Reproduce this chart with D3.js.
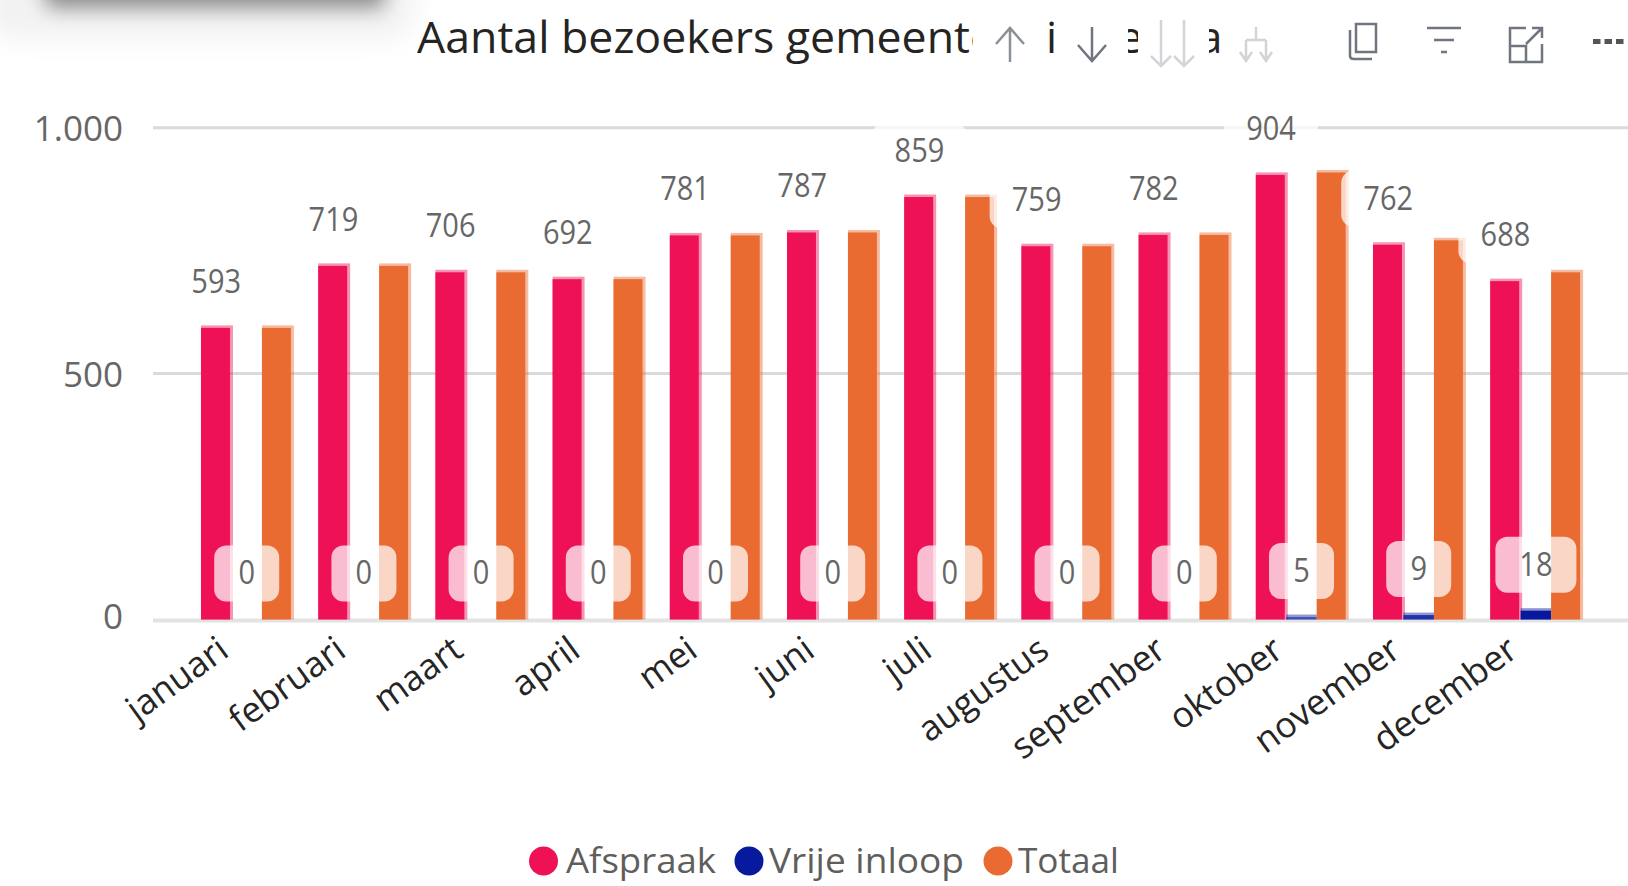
<!DOCTYPE html>
<html><head><meta charset="utf-8">
<script src="https://cdn.jsdelivr.net/npm/d3@7"></script>
<style>html,body{margin:0;padding:0;background:#fff;overflow:hidden}svg{display:block}text{font-family:"Open Sans",sans-serif}</style>
</head><body><svg id="c" width="1628" height="886"></svg>
<script>
const months=["januari","februari","maart","april","mei","juni","juli","augustus","september","oktober","november","december"];
const afspraak=[593,719,706,692,781,787,859,759,782,904,762,688];
const vrijeInloop=[0,0,0,0,0,0,0,0,0,5,9,18];
const totaal=[593,719,706,692,781,787,859,759,782,909,771,706];
const seriesNames=["Afspraak","Vrije inloop","Totaal"];
const seriesColors=["#EE1156","#071A9E","#E96B32"];
const yTicks=[0,500,1000];
const yTickLabels=["0","500","1.000"];

const svg=d3.select("#c");
const defs=svg.append("defs");
defs.append("filter").attr("id","b1").attr("x","-30%").attr("y","-200%").attr("width","160%").attr("height","500%")
  .append("feGaussianBlur").attr("stdDeviation",10);
defs.append("filter").attr("id","b2").attr("x","-30%").attr("y","-200%").attr("width","160%").attr("height","500%")
  .append("feGaussianBlur").attr("stdDeviation",14);

// tooltip shadow top-left
svg.append("rect").attr("x",-15).attr("y",-60).attr("width",430).attr("height",100).attr("rx",30).attr("fill","#000").attr("opacity",.05).attr("filter","url(#b2)");
svg.append("rect").attr("x",45).attr("y",-40).attr("width",340).attr("height",48).attr("rx",8).attr("fill","#000").attr("opacity",.42).attr("filter","url(#b1)");

const x=d3.scaleBand().domain(months).range([188.1,1594.5]).paddingInner(.22).paddingOuter(.11);
const x1=d3.scaleBand().domain(seriesNames).range([0,x.bandwidth()]);
const y=d3.scaleLinear().domain([0,1000]).range([619.5,127.7]);

// grid
const gridG=svg.append("g");
gridG.selectAll("line").data(yTicks).join("line")
  .attr("x1",153).attr("x2",1628).attr("y1",d=>y(d)+(d===0?1:0)).attr("y2",d=>y(d)+(d===0?1:0))
  .attr("stroke",d=>d===0?"#E3E3E3":"#DADADA").attr("stroke-width",d=>d===0?4:3);

// y tick labels
svg.append("g").selectAll("text").data(yTicks).join("text")
  .attr("x",123).attr("y",d=>y(d)+(d===0?-3:1)).attr("dy","0.35em").attr("text-anchor","end")
  .attr("font-size",35).attr("fill","#666666").text((d,i)=>yTickLabels[i]);

// bars
const seriesData=[afspraak,vrijeInloop,totaal];
seriesNames.forEach((name,si)=>{
  const vals=seriesData[si];
  const g=svg.append("g");
  g.selectAll("rect.h").data(vals).join("rect").attr("class","h")
    .attr("x",(d,i)=>x(months[i])+x1(name)).attr("y",d=>y(d)-2.5)
    .attr("width",x1.bandwidth()+(si===1?0:1.5)).attr("height",d=>Math.max(0,y(0)-y(d)+2.5))
    .attr("fill",seriesColors[si]).attr("opacity",d=>d>0?.45:0);
  g.selectAll("rect.s").data(vals).join("rect").attr("class","s")
    .attr("x",(d,i)=>x(months[i])+x1(name)).attr("y",d=>y(d))
    .attr("width",x1.bandwidth()-(si===1?0:1.5)).attr("height",d=>y(0)-y(d))
    .attr("fill",seriesColors[si]).attr("opacity",d=>d>0&&d<6?.55:d>0&&d<12?.8:1);
});

// data labels
function labels(vals,name){
  const cx=i=>x(months[i])+x1(name)+x1.bandwidth()/2;
  const g=svg.append("g");
  g.selectAll("rect").data(vals).join("rect")
    .attr("x",(d,i)=>cx(i)-(String(d).length===1?32.5:String(d).length===2?40.5:47))
    .attr("y",d=>y(d)-46-28).attr("width",d=>String(d).length===1?65:String(d).length===2?81:94).attr("height",56)
    .attr("rx",12).attr("fill","#fff").attr("fill-opacity",.72);
  g.selectAll("text").data(vals).join("text")
    .attr("transform",(d,i)=>`translate(${cx(i)},${y(d)-46.5}) scale(1,1.12)`)
    .attr("dy","0.35em").attr("text-anchor","middle").attr("font-size",29).attr("fill","#666666").text(d=>d);
}
labels(afspraak,"Afspraak");
labels(vrijeInloop,"Vrije inloop");

// x tick labels
svg.append("g").selectAll("text").data(months).join("text")
  .attr("transform",d=>`translate(${x(d)+x.bandwidth()/2-31},634) rotate(-36)`)
  .attr("text-anchor","end").attr("dy","0.72em").attr("font-size",35.5).attr("fill","#252525").text(d=>d);

// legend
const legendCx=[543.5,749,998], legendTx=[566,769,1018], legendW=[150,195,101];
const lg=svg.append("g");
lg.selectAll("circle").data(seriesNames).join("circle").attr("cx",(d,i)=>legendCx[i]).attr("cy",861).attr("r",14.5).attr("fill",(d,i)=>seriesColors[i]);
lg.selectAll("text").data(seriesNames).join("text").attr("x",(d,i)=>legendTx[i]).attr("y",873)
  .attr("font-size",35).attr("fill","#605E5C").attr("textLength",(d,i)=>legendW[i]).attr("lengthAdjust","spacingAndGlyphs").text(d=>d);

// title, partly covered by the hover toolbar
[[417,556],[1047,8],[1128,10],[1209,11]].forEach((w,i)=>{
  defs.append("clipPath").attr("id","t"+i).append("rect").attr("x",w[0]).attr("y",0).attr("width",w[1]).attr("height",90);
});
const titleG=svg.append("g").attr("font-size",44).attr("fill","#252423");
titleG.append("text").attr("x",417).attr("y",53).attr("clip-path","url(#t0)").attr("textLength",578).attr("lengthAdjust","spacingAndGlyphs").text("Aantal bezoekers gemeente");
titleG.append("text").attr("x",1046).attr("y",53).attr("clip-path","url(#t1)").text("i");
titleG.append("text").attr("x",1118).attr("y",53).attr("clip-path","url(#t2)").text("e");
titleG.append("text").attr("x",1198).attr("y",53).attr("clip-path","url(#t3)").text("a");

// toolbar icons
const icon=(d,c,w)=>svg.append("path").attr("d",d).attr("fill","none").attr("stroke",c).attr("stroke-width",w||2.5);
icon("M1010 62V28M996 44L1010 28L1024 44","#8A9098");
icon("M1092 27V61M1078 45L1092 61L1106 45","#6F7680");
icon("M1161 20V66M1151 56L1161 66L1171 56M1184 20V66M1174 56L1184 66L1194 56","#D3D4D8");
icon("M1256 27V40M1246 40H1266M1246 40V61M1266 40V61M1240 52L1246 61L1252 52M1260 52L1266 61L1272 52","#D3D4D8");
icon("M1356 24H1376V52H1356ZM1350 30V56Q1350 59 1354 59H1372","#6F7680");
icon("M1427 28H1461M1434 40H1454M1441 52H1447","#6F7680");
icon("M1526 28H1510V62H1542V44M1510 46H1526V62M1526 44L1541 29M1532 28H1542V38","#6F7680");
svg.append("g").selectAll("rect").data([0,1,2]).join("rect").attr("x",d=>1593+d*11.5).attr("y",39).attr("width",7.5).attr("height",5).attr("fill","#555");
</script></body></html>
